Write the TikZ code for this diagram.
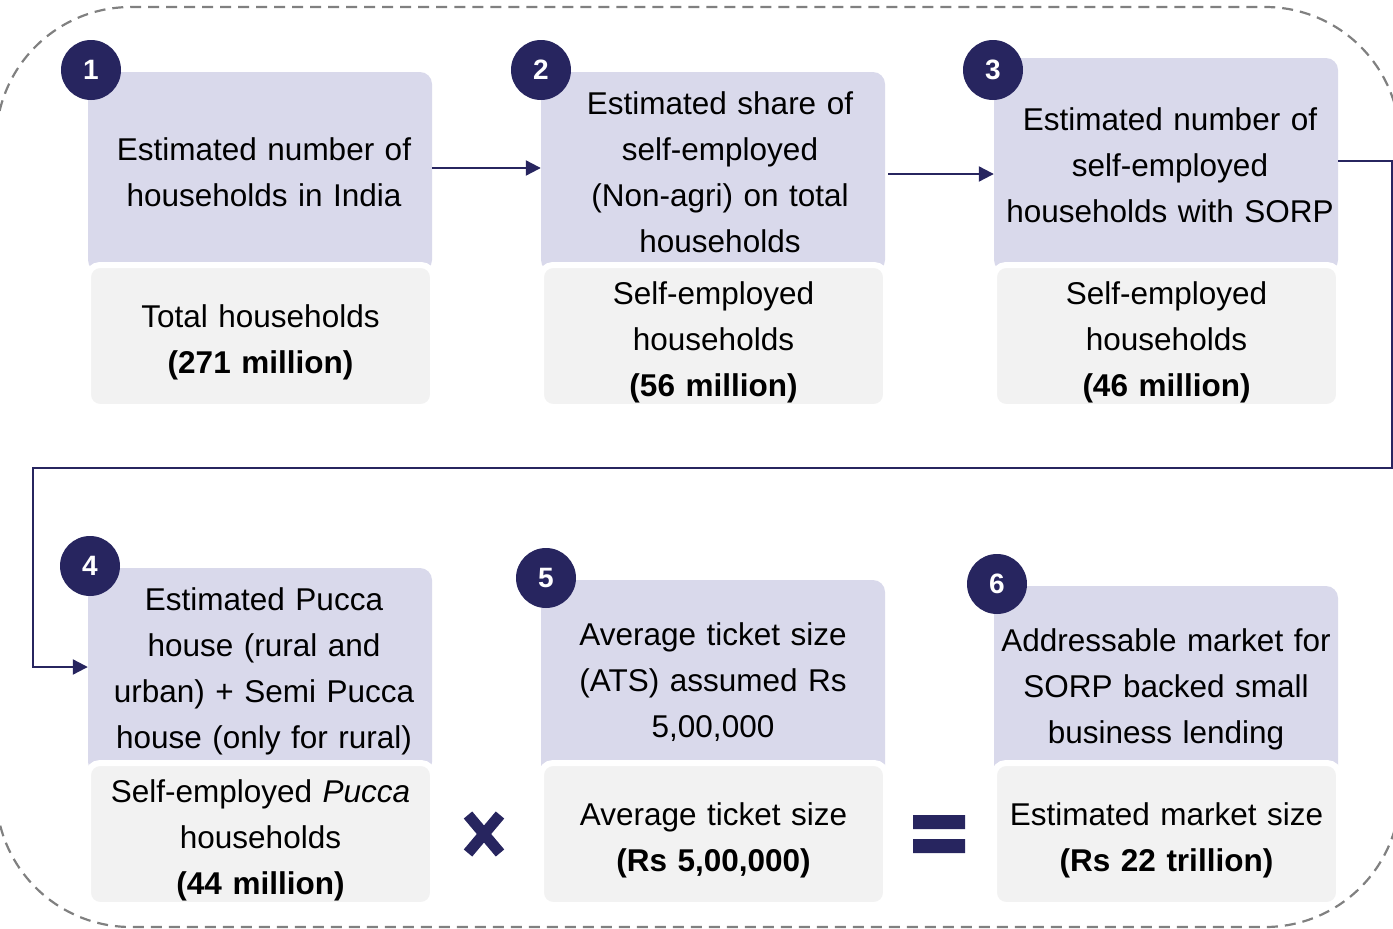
\documentclass[tikz,border=0pt]{standalone}
\usepackage{fontspec}
\setmainfont{Liberation Sans}
\usetikzlibrary{arrows.meta}
\definecolor{stepfill}{HTML}{D9D9EB}
\definecolor{valfill}{HTML}{F2F2F2}
\definecolor{navy}{HTML}{27255F}
\definecolor{dashgray}{HTML}{808080}
\newcommand\boxfont{\fontsize{31.5}{46}\selectfont}
\begin{document}
\begin{tikzpicture}
% 1pt = 1px of the 1393x929 page, y runs down
[x=1pt, y=-1pt,
 stepbox/.style={fill=stepfill, rounded corners=12pt, minimum width=344pt, text width=344pt,
   inner sep=0pt, font=\boxfont, execute at begin node={\centering\leftskip=#1 plus 1fil}},
 stepbox/.default=0pt,
 % white rim eats 3pt on each side: 345 = 339+6, 142 = 136+6
 % 35pt strut = first line height + 12pt, text sits 6pt lower
 valbox/.style={fill=valfill, draw=white, line width=6pt, rounded corners=12pt, minimum width=345pt,
   minimum height=142pt, text width=336pt, inner sep=0pt, font=\boxfont,
   execute at begin node={\centering\rule{0pt}{35pt}}},
 badge/.style={circle, fill=navy, text=white, minimum size=60pt, inner sep=0pt,
   font=\fontsize{28}{28}\selectfont\bfseries},
 link/.style={draw=navy, line width=2.2pt, -{Triangle[length=15pt,width=15pt]}}]
\useasboundingbox (0,0) rectangle (1393,929);
\clip (0,0) rectangle (1393,929);
% dashed frame runs past the page edges
\draw[dashgray, line width=2.2pt, dash pattern=on 11pt off 7pt, rounded corners=135pt]
  (-4,7) rectangle (1400,927);
% top row, purple boxes run on behind the grey ones (bottom = 272)
\node[stepbox=8pt, minimum height=200pt] (s1) at (260,172) {Estimated number of\\households in India};
\node[stepbox=14pt, minimum height=200pt] (s2) at (713,172) {Estimated share of\\self-employed\\(Non-agri) on total\\households};
\node[stepbox=8pt, minimum height=214pt] (s3) at (1166,165) {Estimated number of\\self-employed\\households with SORP};
\node[valbox] (v1) at (260.5,336) {Total households\\\textbf{(271 million)}};
\node[valbox] (v2) at (713.5,336) {Self-employed\\households\\\textbf{(56 million)}};
\node[valbox] (v3) at (1166.5,336) {Self-employed\\households\\\textbf{(46 million)}};
% bottom row
\node[stepbox=8pt, minimum height=206pt] (s4) at (260,671) {Estimated Pucca\\house (rural and\\urban) + Semi Pucca\\house (only for rural)};
\node[stepbox, minimum height=204pt] (s5) at (713,682) {Average ticket size\\(ATS) assumed Rs\\5,00,000};
\node[stepbox, minimum height=206pt] (s6) at (1166,689) {Addressable market for\\SORP backed small\\business lending};
\node[valbox] (v4) at (260.5,834) {Self-employed \textit{Pucca}\\households\\\textbf{(44 million)}};
\node[valbox] (v5) at (713.5,834) {Average ticket size\\\textbf{(Rs 5,00,000)}};
\node[valbox] (v6) at (1166.5,834) {Estimated market size\\\textbf{(Rs 22 trillion)}};
% number badges
\node[badge] (b1) at (91,70) {1};
\node[badge] (b2) at (541,70) {2};
\node[badge] (b3) at (993,70) {3};
\node[badge] (b4) at (90,566) {4};
\node[badge] (b5) at (546,578) {5};
\node[badge] (b6) at (997,584) {6};
% connectors
\draw[link] ([yshift=4pt]s1.east) -- ([yshift=4pt]s2.west);
\coordinate (a23) at ([xshift=3pt,yshift=-2pt]s2.east);
\draw[link] (a23) -- (a23 -| s3.west);
\coordinate (turnR) at (1392,468);
\coordinate (turnL) at (33,468);
\draw[link] ([yshift=4pt]s3.east) -| (turnR) -- (turnL) |- ([yshift=4pt]s4.west);
% times and equals signs
\draw[navy, line width=11pt] (468,815) -- (500,853) (500,815) -- (468,853);
\fill[navy] (913,815) rectangle (965,829) (913,839) rectangle (965,853);
\end{tikzpicture}
\end{document}
